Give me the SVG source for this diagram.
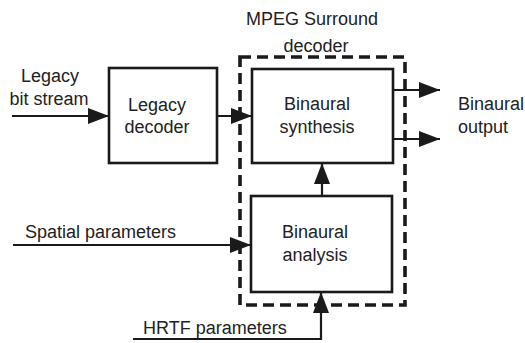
<svg xmlns="http://www.w3.org/2000/svg" width="525" height="343" viewBox="0 0 525 343">
<defs>
<marker id="ah" markerUnits="userSpaceOnUse" markerWidth="22" markerHeight="16" refX="21" refY="8" orient="auto">
<path d="M0,0 L21,8 L0,16 Z" fill="#1a1a1a"/>
</marker>
</defs>
<style>
.box{fill:#fff;stroke:#1a1a1a;stroke-width:2.6}
.dash{fill:none;stroke:#1a1a1a;stroke-width:3.6;stroke-dasharray:11 6}
.ln{fill:none;stroke:#1a1a1a;stroke-width:2.2}
text{font-family:"Liberation Sans",Arial,sans-serif;font-size:18px;fill:#222}
.c{text-anchor:middle}
</style>
<rect width="525" height="343" fill="#fff"/>
<g id="mpeg">
<rect class="dash" x="240" y="57" width="165" height="248"/>
<text class="c" x="312" y="25">MPEG Surround</text>
<text class="c" x="316" y="52">decoder</text>
</g>
<g id="legacy">
<rect class="box" x="109" y="68" width="108" height="95"/>
<text class="c" x="157" y="111">Legacy</text>
<text class="c" x="157" y="133">decoder</text>
</g>
<g id="synthesis">
<rect class="box" x="252" y="69" width="141" height="94"/>
<text class="c" x="317" y="110">Binaural</text>
<text class="c" x="317" y="133">synthesis</text>
</g>
<g id="analysis">
<rect class="box" x="251" y="196" width="141" height="96"/>
<text class="c" x="315" y="238">Binaural</text>
<text class="c" x="315" y="261">analysis</text>
</g>
<g id="labels">
<text class="c" x="50" y="82">Legacy</text>
<text class="c" x="49" y="105">bit stream</text>
<text x="458" y="110">Binaural</text>
<text x="458" y="133">output</text>
<text x="25" y="238">Spatial parameters</text>
<text x="143" y="334">HRTF parameters</text>
</g>
<g id="connectors">
<line class="ln" x1="12" y1="116" x2="109" y2="116" marker-end="url(#ah)"/>
<line class="ln" x1="217" y1="116" x2="252" y2="116" marker-end="url(#ah)"/>
<line class="ln" x1="393" y1="90" x2="440" y2="90" marker-end="url(#ah)"/>
<line class="ln" x1="393" y1="139" x2="440" y2="139" marker-end="url(#ah)"/>
<line class="ln" x1="322" y1="196" x2="322" y2="163" marker-end="url(#ah)"/>
<line class="ln" x1="13" y1="245" x2="251" y2="245" marker-end="url(#ah)"/>
<polyline class="ln" points="133,339 321,339 321,292" marker-end="url(#ah)"/>
</g>
</svg>
